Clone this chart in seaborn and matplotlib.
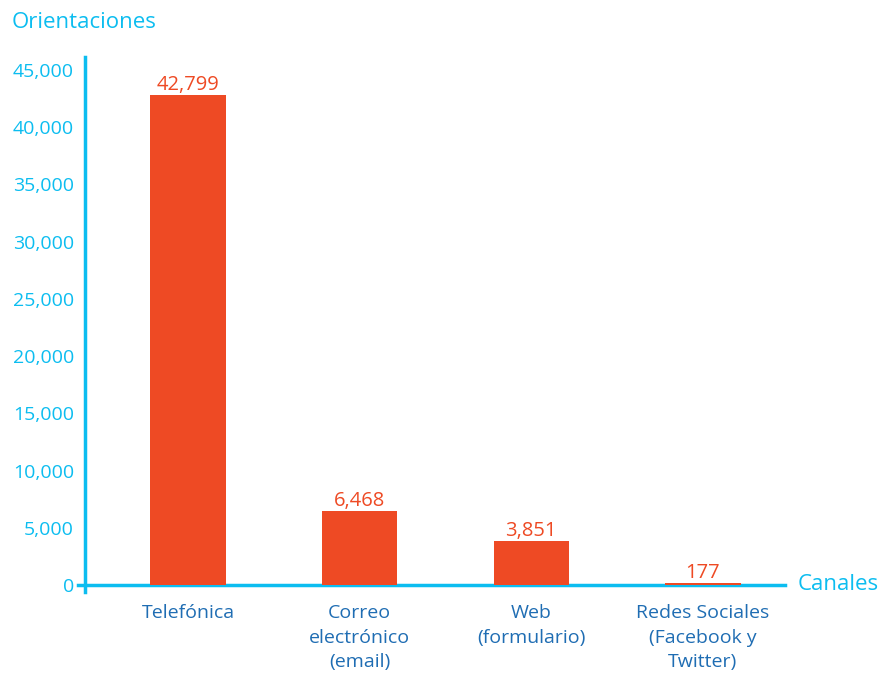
import matplotlib
matplotlib.use("Agg")
import matplotlib.pyplot as plt
import matplotlib.transforms as mtransforms
import seaborn as sns
import pandas as pd

canales = ["Telefónica", "Correo\nelectrónico\n(email)", "Web\n(formulario)", "Redes Sociales\n(Facebook y\nTwitter)"]
orientaciones = [42799, 6468, 3851, 177]
yticks = [0, 5000, 10000, 15000, 20000, 25000, 30000, 35000, 40000, 45000]

CYAN = "#0cbdf0"
DARKBLUE = "#1f6db3"
RED = "#ee4a24"

sns.set_theme(style="white")
plt.rcParams["font.family"] = ["Open Sans", "DejaVu Sans"]

df = pd.DataFrame({"canal": canales, "valor": orientaciones})

fig = plt.figure(figsize=(8.82, 6.74), dpi=100)
W, H = 882, 674
ax = fig.add_axes([85 / W, 1 - 592 / H, (785 - 85) / W, (592 - 57) / H])

sns.barplot(data=df, x="canal", y="valor", color=RED, saturation=1, width=0.44,
            linewidth=0, ax=ax)
for p in ax.patches:
    p.set_zorder(3)

ax.set_xlim(-0.60, 3.478)
ax.set_ylim(-612, 46136)

# value labels above each bar
for i, v in enumerate(orientaciones):
    ax.text(i, v + 420, f"{v:,}", ha="center", va="baseline", color=RED, fontsize=14.5)

ax.set_yticks(yticks)
ax.set_yticklabels([f"{t:,}" for t in yticks])
ax.tick_params(axis="y", labelcolor=CYAN, labelsize=14, length=0, pad=8)

# category names under the axis, with wider line spacing
ax.set_xticks(range(len(canales)))
ax.set_xticklabels([])
ax.tick_params(axis="x", length=0)
below = ax.get_xaxis_transform() + mtransforms.ScaledTranslation(0, -12 / 100, fig.dpi_scale_trans)
for i, name in enumerate(canales):
    ax.text(i, 0, name, transform=below, ha="center", va="top", multialignment="center",
            color=DARKBLUE, fontsize=14, linespacing=1.48)

for s in ["top", "right"]:
    ax.spines[s].set_visible(False)
ax.spines["left"].set_color(CYAN)
ax.spines["left"].set_linewidth(2.5)
ax.spines["bottom"].set_color(CYAN)
ax.spines["bottom"].set_linewidth(2.5)
ax.spines["bottom"].set_position(("data", 0))
ax.spines["bottom"].set_bounds(-0.641, 3.478)

ax.set_xlabel("")
ax.set_ylabel("")

fig.text(12 / W, 1 - 22 / H, "Orientaciones", color=CYAN, fontsize=16, ha="left", va="center")
fig.text(798 / W, 1 - 585 / H, "Canales", color=CYAN, fontsize=16, ha="left", va="center")

fig.savefig("out.png", dpi=100, facecolor="white")
